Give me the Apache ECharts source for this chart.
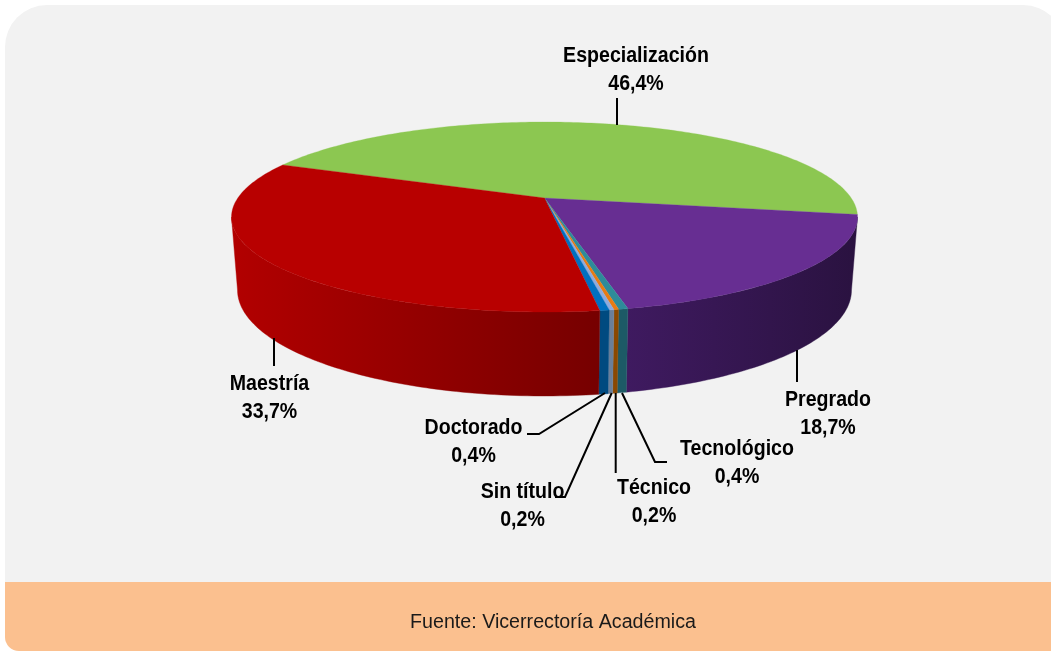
<!DOCTYPE html>
<html><head><meta charset="utf-8">
<style>html,body{margin:0;padding:0;background:#fff}#c{width:1051px;height:651px}</style>
<script src="https://cdn.jsdelivr.net/npm/echarts@6/dist/echarts.min.js"></script></head>
<body><div id="c"></div>
<script>
// Data, clockwise from the Especialización start
const categories = ['Especialización','Pregrado','Tecnológico','Técnico','Sin título','Doctorado','Maestría'];
const shares = [46.4,18.7,0.4,0.2,0.2,0.4,33.7];
const footerText = 'Fuente: Vicerrectoría Académica';

// Styles
const topColors = ['#8CC751','#672E92','#2E8B99','#E87B12','#8FAADC','#0070C0','#B80000'];
const wallStops = [
  ['#6a9a3a','#6a9a3a'],
  ['#3f1a60','#2a1240'],
  ['#1d5a66','#1d5a66'],
  ['#8a4800','#8a4800'],
  ['#6a7f9a','#6a7f9a'],
  ['#004a80','#004a80'],
  ['#b20000','#760000']
];
// Layout of the projected disc
const START_DEG = -67, PERSP = 0.2;
const TOP = {cx:544.5, cy:217, rx:313, ry:95};
const BOT = {cx:544.5, cy:290, rx:307, ry:106};
const SIL = Math.acos(-PERSP)*180/Math.PI; // silhouette angle
// Label layout
const layout = [
  {x:636,   y:[56,84],   line:[[617,98],[617,125]]},
  {x:828,   y:[400,428], line:[[797,350],[797,382]]},
  {x:737,   y:[449,477], line:[[622,393],[655,462],[667,462]]},
  {x:654,   y:[488,516], line:[[615.7,393],[615.7,473]]},
  {x:522.5, y:[492,520], line:[[611.7,393],[565,497],[555,497]]},
  {x:473.5, y:[428,456], line:[[605,393],[539,434],[527,434]]},
  {x:269.5, y:[384,412], line:[[274,338],[274,366]]}
];
const LABEL_FONT = '"Liberation Sans",Arial,sans-serif';
const LABEL_SQUEEZE = 0.89;

function proj(e, deg){
  const t = deg*Math.PI/180, X = Math.sin(t), Y = -Math.cos(t), d = 1-PERSP*Y;
  return [e.cx + e.rx*Math.sqrt(1-PERSP*PERSP)*X/d, e.cy + e.ry*(Y-PERSP)/d];
}
function arc(e,a,b){
  const n = Math.max(2,Math.ceil(Math.abs(b-a)/1)), pts=[];
  for(let i=0;i<=n;i++) pts.push(proj(e,a+(b-a)*i/n));
  return pts;
}
const total = shares.reduce((a,b)=>a+b,0);
const cum = []; shares.reduce((s,v,i)=>(cum[i]=s,s+v),0);

function renderSlice(params, api){
  const i = params.dataIndex, v = api.value(0);
  const a = START_DEG + cum[i]/total*360, b = a + v/total*360;
  const children=[];
  const ws=Math.max(a,SIL), we=Math.min(b,360-SIL);
  if(we>ws){
    const t=arc(TOP,ws,we), bo=arc(BOT,ws,we).reverse(), pts=t.concat(bo);
    const xs=pts.map(p=>p[0]), x0=Math.min(...xs), x1=Math.max(...xs);
    const col={type:'linear',x:x0,y:0,x2:x1,y2:0,global:true,
      colorStops:[{offset:0,color:wallStops[i][0]},{offset:1,color:wallStops[i][1]}]};
    children.push({type:'polygon',shape:{points:pts},style:{fill:col,stroke:col,lineWidth:0.4}});
  }
  const centre=[TOP.cx, TOP.cy + TOP.ry*(-PERSP)];
  const pts=[centre].concat(arc(TOP,a,b));
  children.push({type:'polygon',z2:10,shape:{points:pts},style:{fill:topColors[i],stroke:topColors[i],lineWidth:0.3}});
  return {type:'group',children};
}
function fmt(v){return v.toFixed(1).replace('.',',')+'%';}
function renderLabel(params, api){
  const i = params.dataIndex, l = layout[i], name = categories[i], v = api.value(0), font = 'bold 22px '+LABEL_FONT;
  const txt=(t,y)=>({type:'text',x:l.x,y:y,scaleX:LABEL_SQUEEZE,scaleY:1,
    style:{x:0,y:0,text:t,font,fill:'#000',align:'center',verticalAlign:'middle'}});
  return {type:'group',children:[
    {type:'polyline',shape:{points:l.line},style:{stroke:'#000',lineWidth:2,fill:null}},
    txt(name,l.y[0]), txt(fmt(v),l.y[1])
  ]};
}
const chart = echarts.init(document.getElementById('c'),null,{renderer:'canvas'});
const seriesData = shares.map((v,i)=>({name:categories[i],value:[v]}));
chart.setOption({
  animation:false,
  backgroundColor:'#fff',
  tooltip:{show:false},
  graphic:[
    {type:'rect',z:-10,shape:{x:5,y:5,width:1060,height:600,r:[42,42,12,12]},style:{fill:'#F2F2F2'}},
    {type:'rect',z:-9,shape:{x:5,y:582,width:1060,height:69,r:[0,0,14,14]},style:{fill:'#FBC08F'}},
    {type:'text',z:5,x:553,y:622,scaleX:0.983,scaleY:1,style:{x:0,y:0,text:footerText,font:'20px "Liberation Sans",Arial,sans-serif',fill:'#1a1a1a',align:'center',verticalAlign:'middle'}}
  ],
  series:[
    {type:'custom',coordinateSystem:'none',silent:true,z:2,data:seriesData,renderItem:renderSlice},
    {type:'custom',coordinateSystem:'none',silent:true,z:3,data:seriesData,renderItem:renderLabel}
  ]
});
</script></body></html>
